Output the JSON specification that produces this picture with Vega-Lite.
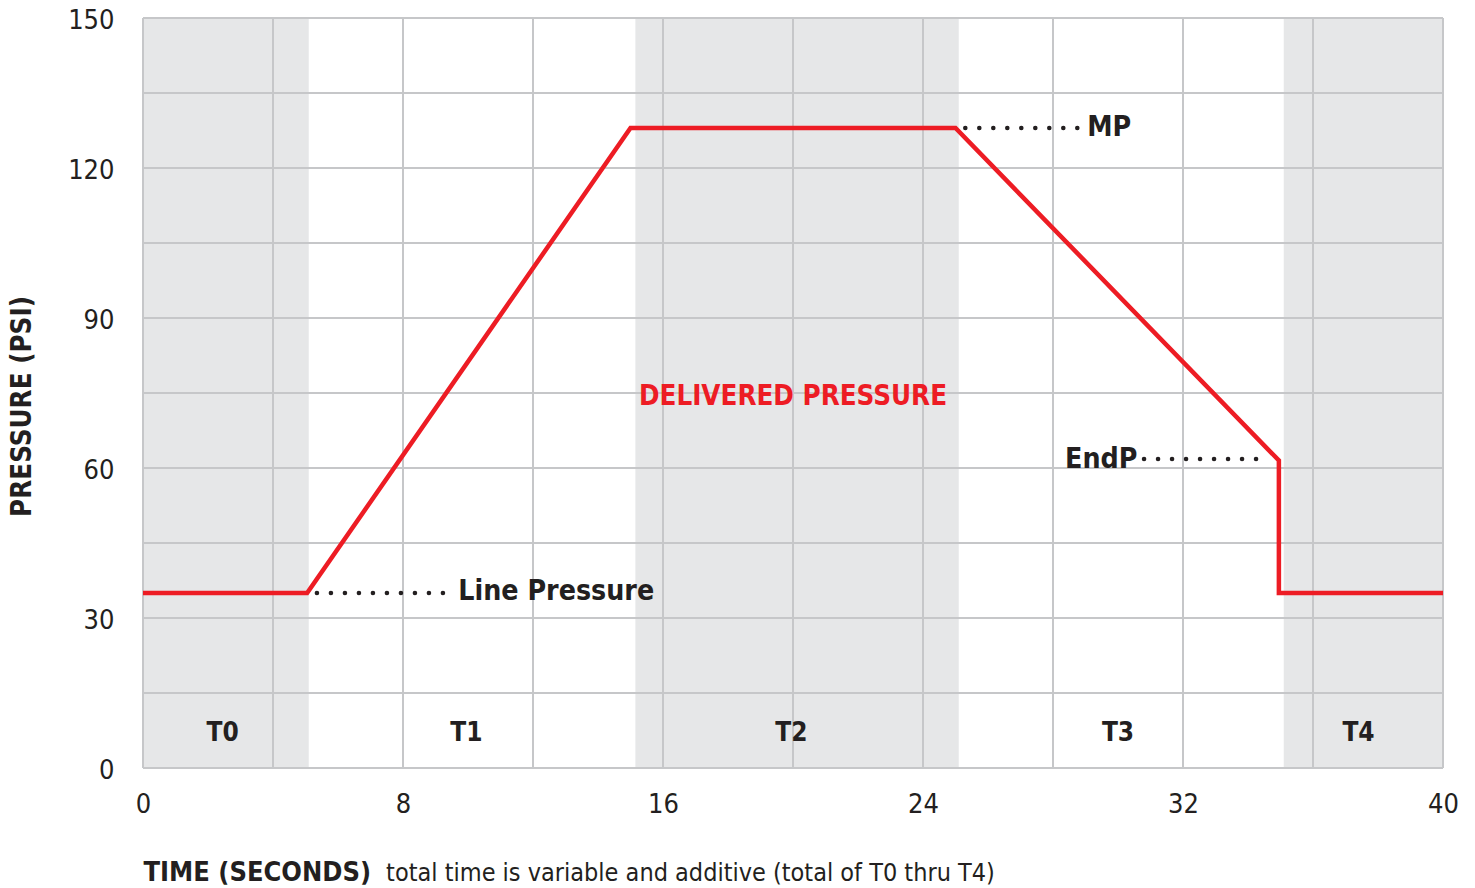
{
  "$schema": "https://vega.github.io/schema/vega-lite/v6.json",
  "autosize": "none",
  "width": 1300,
  "height": 750,
  "padding": {"left": 143, "top": 18, "right": 32, "bottom": 120},
  "background": "white",
  "config": {"view": {"stroke": null}, "font": "'DejaVu Sans Condensed', Roboto, sans-serif"},
  "datasets": {
    "bands": [{"t0": 0, "t1": 5.1}, {"t0": 15.15, "t1": 25.1}, {"t0": 35.1, "t1": 40}],
    "vgrid": [{"t": 0}, {"t": 4}, {"t": 8}, {"t": 12}, {"t": 16}, {"t": 20}, {"t": 24}, {"t": 28}, {"t": 32}, {"t": 36}, {"t": 40}],
    "hgrid": [{"p": 0}, {"p": 15}, {"p": 30}, {"p": 45}, {"p": 60}, {"p": 75}, {"p": 90}, {"p": 105}, {"p": 120}, {"p": 135}, {"p": 150}],
    "curve": [
      {"i": 0, "t": 0, "p": 35},
      {"i": 1, "t": 5.05, "p": 35},
      {"i": 2, "t": 15, "p": 128},
      {"i": 3, "t": 25, "p": 128},
      {"i": 4, "t": 34.95, "p": 61.5},
      {"i": 5, "t": 34.95, "p": 35},
      {"i": 6, "t": 40, "p": 35}
    ],
    "dots": [
      {"t0": 5.35, "t1": 9.3, "p": 35},
      {"t0": 25.3, "t1": 28.75, "p": 128},
      {"t0": 30.8, "t1": 34.65, "p": 61.8}
    ],
    "leftLabels": [
      {"t": 9.7, "p": 35.2, "label": "Line Pressure"},
      {"t": 29.05, "p": 128.0, "label": "MP"}
    ],
    "rightLabels": [{"t": 30.6, "p": 61.7, "label": "EndP"}],
    "phases": [
      {"t": 2.45, "p": 7.0, "label": "T0"},
      {"t": 9.95, "p": 7.0, "label": "T1"},
      {"t": 19.95, "p": 7.0, "label": "T2"},
      {"t": 30.0, "p": 7.0, "label": "T3"},
      {"t": 37.4, "p": 7.0, "label": "T4"}
    ],
    "center": [{"t": 20, "p": 74.3, "label": "DELIVERED PRESSURE"}],
    "note": [{"t": 7.48, "p": -20.9, "label": "total time is variable and additive (total of T0 thru T4)"}]
  },
  "layer": [
    {
      "data": {"name": "bands"},
      "mark": {"type": "rect", "color": "#e6e7e8"},
      "encoding": {
        "x": {"field": "t0", "type": "quantitative", "scale": {"domain": [0, 40], "nice": false},
          "axis": {"values": [0, 8, 16, 24, 32, 40], "grid": false, "domain": false, "ticks": false,
            "labelFontSize": 27, "labelColor": "#231f20", "labelPadding": 23, "labelFlush": false, "labelBound": false,
            "title": "TIME (SECONDS)", "titleFontSize": 27, "titleFontWeight": "bold", "titleColor": "#231f20",
            "titleAnchor": "start", "titleAlign": "left", "titleX": 0, "titleY": 104, "titleBaseline": "middle"}},
        "x2": {"field": "t1"}
      }
    },
    {
      "data": {"name": "vgrid"},
      "mark": {"type": "rule", "color": "#c6c7c9", "strokeWidth": 2},
      "encoding": {"x": {"field": "t", "type": "quantitative"}}
    },
    {
      "data": {"name": "hgrid"},
      "mark": {"type": "rule", "color": "#c6c7c9", "strokeWidth": 2},
      "encoding": {
        "y": {"field": "p", "type": "quantitative", "scale": {"domain": [0, 150], "nice": false},
          "axis": {"values": [0, 30, 60, 90, 120, 150], "grid": false, "domain": false, "ticks": false,
            "labelFontSize": 27, "labelColor": "#231f20", "labelPadding": 29, "labelOffset": 2, "labelFlush": false, "labelBound": false,
            "title": "PRESSURE (PSI)", "titleFontSize": 27.5, "titleFontWeight": "bold", "titleColor": "#231f20",
            "titleX": -121, "titleY": 388, "titleAngle": -90, "titleAlign": "center", "titleBaseline": "middle"}}
      }
    },
    {
      "data": {"name": "curve"},
      "mark": {"type": "line", "color": "#ed1c24", "strokeWidth": 4.5, "strokeJoin": "miter"},
      "encoding": {
        "x": {"field": "t", "type": "quantitative"},
        "y": {"field": "p", "type": "quantitative"},
        "order": {"field": "i"}
      }
    },
    {
      "data": {"name": "dots"},
      "mark": {"type": "rule", "color": "#231f20", "strokeWidth": 4.5, "strokeCap": "round", "strokeDash": [0.1, 13.9]},
      "encoding": {
        "x": {"field": "t0", "type": "quantitative"},
        "x2": {"field": "t1"},
        "y": {"field": "p", "type": "quantitative"}
      }
    },
    {
      "data": {"name": "leftLabels"},
      "mark": {"type": "text", "align": "left", "baseline": "middle", "fontSize": 28.3, "fontWeight": "bold", "color": "#231f20"},
      "encoding": {
        "x": {"field": "t", "type": "quantitative"},
        "y": {"field": "p", "type": "quantitative"},
        "text": {"field": "label"}
      }
    },
    {
      "data": {"name": "rightLabels"},
      "mark": {"type": "text", "align": "right", "baseline": "middle", "fontSize": 28.3, "fontWeight": "bold", "color": "#231f20"},
      "encoding": {
        "x": {"field": "t", "type": "quantitative"},
        "y": {"field": "p", "type": "quantitative"},
        "text": {"field": "label"}
      }
    },
    {
      "data": {"name": "phases"},
      "mark": {"type": "text", "align": "center", "baseline": "middle", "fontSize": 26, "fontWeight": "bold", "color": "#231f20"},
      "encoding": {
        "x": {"field": "t", "type": "quantitative"},
        "y": {"field": "p", "type": "quantitative"},
        "text": {"field": "label"}
      }
    },
    {
      "data": {"name": "center"},
      "mark": {"type": "text", "align": "center", "baseline": "middle", "fontSize": 27.5, "fontWeight": "bold", "color": "#ed1c24"},
      "encoding": {
        "x": {"field": "t", "type": "quantitative"},
        "y": {"field": "p", "type": "quantitative"},
        "text": {"field": "label"}
      }
    },
    {
      "data": {"name": "note"},
      "mark": {"type": "text", "align": "left", "baseline": "middle", "fontSize": 25, "color": "#231f20", "clip": false},
      "encoding": {
        "x": {"field": "t", "type": "quantitative"},
        "y": {"field": "p", "type": "quantitative"},
        "text": {"field": "label"}
      }
    }
  ]
}
